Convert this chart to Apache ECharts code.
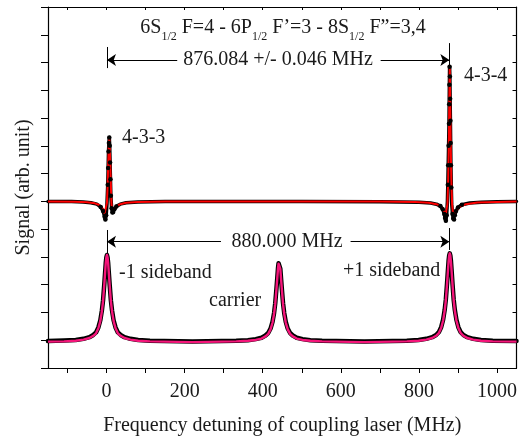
<!DOCTYPE html>
<html>
<head>
<meta charset="utf-8">
<script src="https://cdn.jsdelivr.net/npm/echarts@6/dist/echarts.min.js"></script>
<style>
  html, body { margin: 0; padding: 0; background: #fff; }
  #chart { width: 520px; height: 441px; }
</style>
</head>
<body>
<div id="chart"></div>
<script>
// upper trace: 6S-6P-8S two-photon signal, black = measured, red = fit
var upperData = [
    [-150, 6.0], [-120, 6.0], [-90, 6.0], [-60, 5.98], [-40, 5.95], [-25, 5.9], [-15, 5.8], [-9, 5.65],
    [-5, 5.45], [-3, 5.35], [-1, 5.5], [1, 5.9], [3, 6.6], [4, 7.2], [5, 7.8], [6, 8.1], [7, 8.3],
    [8, 8.0], [9, 7.4], [10, 6.8], [11, 6.2], [13, 5.75], [15, 5.6], [17, 5.62], [20, 5.72], [25, 5.82],
    [35, 5.9], [50, 5.95], [80, 5.98], [150, 6.0], [300, 6.0], [500, 6.0], [700, 5.99], [800, 5.97],
    [830, 5.94], [845, 5.9], [855, 5.83], [861, 5.72], [865, 5.55], [867, 5.4], [869, 5.3], [871, 5.5],
    [873, 6.0], [874, 6.6], [875, 7.3], [876, 8.0], [877, 8.8], [877.5, 9.5], [878, 10.2], [878.6, 10.85],
    [879.3, 10.5], [880, 9.7], [880.7, 8.9], [881.3, 8.1], [882, 7.3], [883, 6.5], [884, 5.9], [886, 5.55],
    [888, 5.38], [890, 5.35], [892, 5.5], [895, 5.65], [900, 5.78], [910, 5.88], [930, 5.94], [960, 5.97],
    [1000, 5.99], [1050, 6.0]
];
var upperFit = [
    [-150, 6.0], [-80, 5.99], [-50, 5.97], [-30, 5.93], [-20, 5.88], [-13, 5.8], [-8, 5.68], [-5, 5.57],
    [-3, 5.52], [-1, 5.6], [1, 5.95], [3, 6.7], [4.5, 7.5], [6, 8.1], [7, 8.24], [8, 8.05], [9.5, 7.4],
    [11, 6.6], [12.5, 5.95], [14, 5.72], [16, 5.66], [18, 5.68], [21, 5.75], [26, 5.83], [35, 5.9],
    [50, 5.95], [80, 5.98], [150, 6.0], [700, 6.0], [790, 5.98], [825, 5.95], [845, 5.9], [855, 5.84],
    [861, 5.75], [865, 5.62], [868, 5.47], [869.5, 5.42], [871, 5.5], [873, 5.9], [875, 6.8], [876.5, 8.0],
    [877.8, 9.6], [879, 10.85], [880.2, 9.6], [881.5, 8.0], [883, 6.8], [885, 5.9], [887, 5.6], [889, 5.48],
    [890.5, 5.47], [893, 5.55], [897, 5.68], [905, 5.8], [920, 5.9], [950, 5.96], [1000, 5.98], [1050, 6.0]
];

// lower trace: EOM sidebands, black = measured, pink = fit
var lowerData = [
    [-150, 0.97], [-109, 0.99], [-79, 1.01], [-59, 1.05], [-44, 1.11], [-34, 1.19], [-27, 1.28], [-21, 1.46],
    [-16, 1.72], [-12, 2.07], [-9, 2.44], [-6, 2.99], [-4, 3.39], [-2, 3.79], [-0.5, 3.99], [1, 4.07],
    [2.5, 3.99], [4, 3.79], [6, 3.39], [8, 2.99], [11, 2.44], [14, 2.07], [18, 1.72], [23, 1.46], [29, 1.28],
    [36, 1.19], [46, 1.11], [61, 1.05], [81, 1.01], [111, 0.98], [220, 0.95], [332, 0.98], [362, 1.0],
    [382, 1.04], [397, 1.09], [407, 1.17], [414, 1.26], [420, 1.42], [425, 1.66], [429, 1.98], [432, 2.33],
    [435, 2.84], [437, 3.2], [439, 3.58], [440.5, 3.77], [442, 3.83], [443.5, 3.77], [445, 3.58], [447, 3.2],
    [449, 2.84], [452, 2.33], [455, 1.98], [459, 1.66], [464, 1.42], [470, 1.26], [477, 1.17], [487, 1.09],
    [502, 1.04], [522, 1.0], [552, 0.98], [660, 0.95], [769, 0.98], [799, 1.01], [819, 1.05], [834, 1.11],
    [844, 1.19], [851, 1.29], [857, 1.47], [862, 1.74], [866, 2.09], [869, 2.47], [872, 3.04], [874, 3.46],
    [876, 3.86], [877.5, 4.05], [879, 4.13], [880.5, 4.05], [882, 3.86], [884, 3.46], [886, 3.04], [889, 2.47],
    [892, 2.09], [896, 1.74], [901, 1.47], [907, 1.29], [914, 1.19], [924, 1.11], [939, 1.05], [959, 1.01],
    [989, 0.98], [1050, 0.97]
];
var lowerFit = [
    [-150, 0.95], [-109, 0.96], [-79, 0.98], [-59, 1.02], [-44, 1.08], [-34, 1.16], [-27, 1.25], [-21, 1.43],
    [-16, 1.69], [-12, 2.04], [-9, 2.41], [-6, 2.97], [-4, 3.38], [-2, 3.79], [-0.5, 3.99], [1, 4.07],
    [2.5, 3.99], [4, 3.79], [6, 3.38], [8, 2.97], [11, 2.41], [14, 2.04], [18, 1.69], [23, 1.43], [29, 1.25],
    [36, 1.16], [46, 1.08], [61, 1.02], [81, 0.98], [111, 0.96], [220, 0.93], [332, 0.96], [362, 0.98],
    [382, 1.01], [397, 1.06], [407, 1.14], [414, 1.23], [420, 1.39], [425, 1.63], [429, 1.95], [432, 2.3],
    [435, 2.82], [437, 3.19], [439, 3.57], [440.5, 3.76], [442, 3.83], [443.5, 3.76], [445, 3.57], [447, 3.19],
    [449, 2.82], [452, 2.3], [455, 1.95], [459, 1.63], [464, 1.39], [470, 1.23], [477, 1.14], [487, 1.06],
    [502, 1.01], [522, 0.98], [552, 0.96], [660, 0.93], [769, 0.96], [799, 0.98], [819, 1.02], [834, 1.08],
    [844, 1.16], [851, 1.26], [857, 1.44], [862, 1.71], [866, 2.06], [869, 2.44], [872, 3.01], [874, 3.43],
    [876, 3.84], [877.5, 4.05], [879, 4.13], [880.5, 4.05], [882, 3.84], [884, 3.43], [886, 3.01], [889, 2.44],
    [892, 2.06], [896, 1.71], [901, 1.44], [907, 1.26], [914, 1.16], [924, 1.08], [939, 1.02], [959, 0.98],
    [989, 0.96], [1050, 0.95]
];

var xTicks = [-100, 0, 100, 200, 300, 400, 500, 600, 700, 800, 900, 1000];
var xLabels = [0, 200, 400, 600, 800, 1000];

var serif = 'Liberation Serif';
var ink = '#1a1a1a';
var pink = '#f5157a';

var myChart = echarts.init(document.getElementById('chart'));

function arrow(x1, x2, y, head) {
    // head: which end gets the arrowhead
    return [
        { coord: [x1, y], symbol: head == 0 ? 'arrow' : 'none', symbolSize: 9 },
        { coord: [x2, y], symbol: head == 1 ? 'arrow' : 'none', symbolSize: 9 }
    ];
}
function bar(x, y1, y2) {
    return [{ coord: [x, y1], symbol: 'none' }, { coord: [x, y2], symbol: 'none' }];
}

var frame = { show: true, onZero: false, lineStyle: { color: '#000', width: 1.2 } };

var option = {
    animation: false,
    grid: { left: 48, right: 1, top: 7, bottom: 73 },
    xAxis: [{
        type: 'value',
        min: -150,
        max: 1050,
        position: 'bottom',
        name: 'Frequency detuning of coupling laser (MHz)',
        nameLocation: 'middle',
        nameGap: 48,
        nameTextStyle: { fontFamily: serif, fontSize: 20, color: ink },
        axisLine: frame,
        axisTick: { show: true, inside: false, length: 5, customValues: xTicks, lineStyle: { color: '#000' } },
        axisLabel: {
            customValues: xLabels, margin: 14, fontFamily: serif, fontSize: 20, color: ink,
            formatter: function (v) { return String(v); }
        },
        splitLine: { show: false }
    }, {
        type: 'value',
        min: -150,
        max: 1050,
        position: 'top',
        axisLine: frame,
        axisTick: { show: true, inside: true, length: 3, customValues: xTicks, lineStyle: { color: '#000' } },
        axisLabel: { show: false },
        splitLine: { show: false }
    }],
    yAxis: [{
        type: 'value',
        min: 0,
        max: 13,
        interval: 1,
        position: 'left',
        name: 'Signal (arb. unit)',
        nameLocation: 'middle',
        nameGap: 14,
        nameTextStyle: { fontFamily: serif, fontSize: 20, color: ink },
        axisLine: frame,
        axisTick: { show: true, inside: false, length: 7, lineStyle: { color: '#000' } },
        axisLabel: { show: false },
        splitLine: { show: false }
    }, {
        type: 'value',
        min: 0,
        max: 13,
        interval: 1,
        position: 'right',
        axisLine: frame,
        axisTick: { show: true, inside: true, length: 4, lineStyle: { color: '#000' } },
        axisLabel: { show: false },
        splitLine: { show: false }
    }],
    series: [
        {
            type: 'line',
            data: upperData,
            showSymbol: true,
            symbol: 'circle',
            // dots only where the data leaves the baseline
            symbolSize: function (val) { return Math.abs(val[1] - 6) > 0.12 ? 4.5 : 0; },
            itemStyle: { color: '#000' },
            lineStyle: { color: '#000', width: 3.5, join: 'round', cap: 'round' },
            silent: true
        },
        {
            type: 'line',
            data: upperFit,
            showSymbol: false,
            lineStyle: { color: '#ff0000', width: 2, join: 'round' },
            silent: true
        },
        {
            type: 'line',
            data: lowerData,
            showSymbol: false,
            lineStyle: { color: '#000', width: 4.5, join: 'round', cap: 'round' },
            silent: true
        },
        {
            type: 'line',
            data: lowerFit,
            showSymbol: false,
            lineStyle: { color: pink, width: 2.4, join: 'round' },
            silent: true,
            markLine: {
                silent: true,
                symbol: ['none', 'none'],
                label: { show: false },
                lineStyle: { color: '#000', width: 1, type: 'solid' },
                data: [
                    arrow(1, 181, 11.09, 0),
                    arrow(702, 878, 11.09, 1),
                    bar(1, 10.8, 11.56),
                    bar(878, 10.84, 11.7),
                    arrow(1, 293, 4.55, 0),
                    arrow(625, 878, 4.55, 1),
                    bar(1, 4.14, 4.97),
                    bar(878, 4.25, 5.04)
                ]
            }
        }
    ],
    graphic: [
        {
            type: 'text', x: 283, y: 18,
            style: {
                text: '{m|6S}{s|1/2}{m| F=4 - 6P}{s|1/2}{m| F’=3 - 8S}{s|1/2}{m| F”=3,4}',
                align: 'center', verticalAlign: 'top', fill: ink,
                rich: {
                    m: { fontFamily: serif, fontSize: 20, height: 20, verticalAlign: 'top', fill: ink },
                    s: { fontFamily: serif, fontSize: 12, height: 38, verticalAlign: 'top', fill: ink }
                }
            }
        },
        { type: 'text', x: 278, y: 60, style: { text: '876.084 +/- 0.046 MHz', align: 'center', verticalAlign: 'middle', fontFamily: serif, fontSize: 20, fill: ink } },
        { type: 'text', x: 122, y: 138, style: { text: '4-3-3', align: 'left', verticalAlign: 'middle', fontFamily: serif, fontSize: 20, fill: ink } },
        { type: 'text', x: 464, y: 76, style: { text: '4-3-4', align: 'left', verticalAlign: 'middle', fontFamily: serif, fontSize: 20, fill: ink } },
        { type: 'text', x: 287, y: 242, style: { text: '880.000 MHz', align: 'center', verticalAlign: 'middle', fontFamily: serif, fontSize: 20, fill: ink } },
        { type: 'text', x: 119, y: 273, style: { text: '-1 sideband', align: 'left', verticalAlign: 'middle', fontFamily: serif, fontSize: 20, fill: ink } },
        { type: 'text', x: 209, y: 301, style: { text: 'carrier', align: 'left', verticalAlign: 'middle', fontFamily: serif, fontSize: 20, fill: ink } },
        { type: 'text', x: 343, y: 271, style: { text: '+1 sideband', align: 'left', verticalAlign: 'middle', fontFamily: serif, fontSize: 20, fill: ink } }
    ]
};

option && myChart.setOption(option);
</script>
</body>
</html>
